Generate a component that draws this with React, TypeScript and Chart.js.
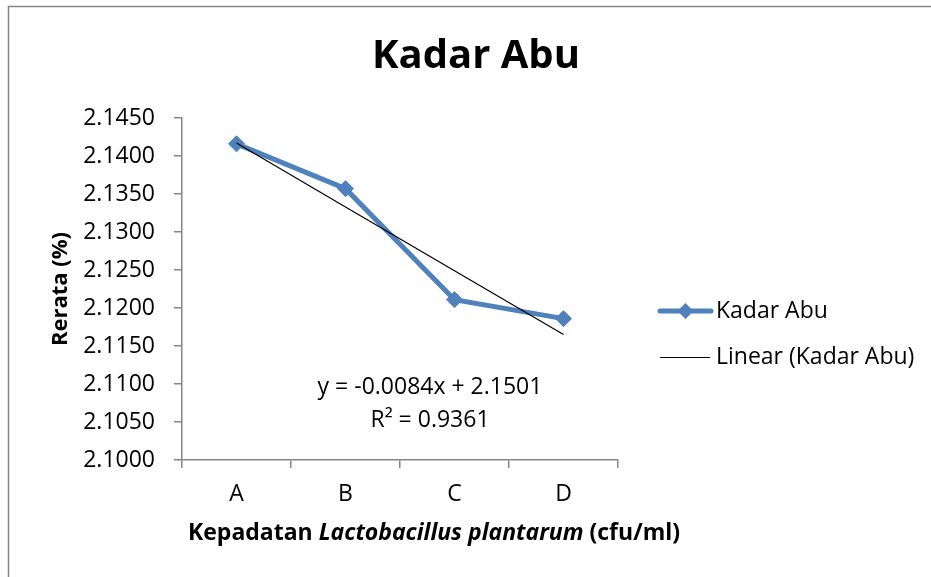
import React, { useEffect, useRef } from 'react';
import { Chart, registerables } from 'chart.js';

Chart.register(...registerables);

const categories = ['A', 'B', 'C', 'D'];
const kadarAbu = [2.1416, 2.1357, 2.1211, 2.1186];
const linearTrend = [2.1417, 2.1333, 2.1249, 2.1165];
const yMin = 2.1;
const yMax = 2.145;
const yStep = 0.005;
const chartTitle = 'Kadar Abu';
const yAxisTitle = 'Rerata (%)';
const xTitleParts = [
  { text: 'Kepadatan ', italic: false },
  { text: 'Lactobacillus plantarum', italic: true },
  { text: ' (cfu/ml)', italic: false },
];
const seriesName = 'Kadar Abu';
const trendName = 'Linear (Kadar Abu)';
const equationLines = ['y = -0.0084x + 2.1501', 'R² = 0.9361'];

const FONT = '"Open Sans", Lato, sans-serif';
const BLUE = '#4F81BD';
const GRAY = '#868686';

const decorPlugin = {
  id: 'decor',
  beforeDraw(chart: any) {
    const ctx = chart.ctx;
    ctx.save();
    ctx.strokeStyle = GRAY;
    ctx.lineWidth = 1.5;
    ctx.strokeRect(8.5, 6.5, 1200, 1200);
    ctx.restore();
  },
  afterDraw(chart: any) {
    const ctx = chart.ctx;
    const area = chart.chartArea;
    ctx.save();
    ctx.fillStyle = '#000';
    ctx.textBaseline = 'middle';

    // title
    ctx.font = `bold 40px ${FONT}`;
    ctx.textAlign = 'center';
    ctx.fillText(chartTitle, 476, 57);

    // y title
    ctx.save();
    ctx.translate(61, (area.top + area.bottom) / 2);
    ctx.rotate(-Math.PI / 2);
    ctx.font = `bold 22px ${FONT}`;
    ctx.fillText(yAxisTitle, 0, 0);
    ctx.restore();

    // x title
    ctx.textAlign = 'left';
    let total = 0;
    const fonts = xTitleParts.map((p) => `${p.italic ? 'italic ' : ''}bold 23px ${FONT}`);
    xTitleParts.forEach((p, i) => {
      ctx.font = fonts[i];
      total += ctx.measureText(p.text).width;
    });
    let x = 434 - total / 2;
    xTitleParts.forEach((p, i) => {
      ctx.font = fonts[i];
      ctx.fillText(p.text, x, 533);
      x += ctx.measureText(p.text).width;
    });

    // equation
    ctx.font = `23px ${FONT}`;
    ctx.textAlign = 'center';
    equationLines.forEach((t, i) => ctx.fillText(t, 430, 387 + i * 33));

    // legend
    ctx.textAlign = 'left';
    ctx.strokeStyle = BLUE;
    ctx.lineWidth = 5;
    ctx.lineCap = 'round';
    ctx.beginPath();
    ctx.moveTo(660, 311);
    ctx.lineTo(711, 311);
    ctx.stroke();
    ctx.fillStyle = BLUE;
    ctx.beginPath();
    ctx.moveTo(685.5 - 8, 311);
    ctx.lineTo(685.5, 311 - 8);
    ctx.lineTo(685.5 + 8, 311);
    ctx.lineTo(685.5, 311 + 8);
    ctx.closePath();
    ctx.fill();
    ctx.fillStyle = '#000';
    ctx.font = `23px ${FONT}`;
    ctx.fillText(seriesName, 716, 311);

    ctx.strokeStyle = '#000';
    ctx.lineWidth = 1.2;
    ctx.lineCap = 'butt';
    ctx.beginPath();
    ctx.moveTo(660, 357.5);
    ctx.lineTo(710, 357.5);
    ctx.stroke();
    ctx.fillText(trendName, 716, 357);
    ctx.restore();
  },
};

export default function App() {
  const ref = useRef<HTMLCanvasElement>(null);
  useEffect(() => {
    const canvas = ref.current!;
    const chart = new Chart(canvas, {
      type: 'line',
      data: {
        labels: categories,
        datasets: [
          {
            label: seriesName,
            data: kadarAbu,
            borderColor: BLUE,
            backgroundColor: BLUE,
            borderWidth: 5,
            pointStyle: 'rectRot',
            pointRadius: 8,
            pointBorderWidth: 1,
            pointBackgroundColor: BLUE,
            pointBorderColor: BLUE,
            tension: 0,
            order: 2,
          },
          {
            label: trendName,
            data: linearTrend,
            borderColor: '#000',
            borderWidth: 1.2,
            pointRadius: 0,
            tension: 0,
            order: 1,
          },
        ],
      },
      options: {
        animation: false,
        responsive: true,
        maintainAspectRatio: false,
        layout: { padding: { top: 118, right: 313, left: 0, bottom: 0 } },
        plugins: {
          legend: { display: false },
          title: { display: false },
          tooltip: { enabled: false },
        },
        scales: {
          x: {
            type: 'category',
            offset: true,
            grid: {
              offset: true,
              drawOnChartArea: false,
              drawTicks: true,
              tickLength: 8,
              color: GRAY,
              lineWidth: 1.5,
            },
            border: { display: true, color: GRAY, width: 1.5 },
            ticks: {
              color: '#000',
              font: { family: FONT, size: 23 },
              padding: 13,
            },
            afterFit(scale: any) {
              scale.height = 577 - 460;
            },
          },
          y: {
            min: yMin,
            max: yMax,
            grid: {
              drawOnChartArea: false,
              drawTicks: true,
              tickLength: 8,
              color: GRAY,
              lineWidth: 1.5,
            },
            border: { display: true, color: GRAY, width: 1.5 },
            ticks: {
              stepSize: yStep,
              color: '#000',
              font: { family: FONT, size: 23 },
              padding: 19,
              callback: (v: any) => Number(v).toFixed(4),
            },
            afterFit(scale: any) {
              scale.width = 182;
            },
          },
        },
      },
      plugins: [decorPlugin],
    });
    return () => chart.destroy();
  }, []);
  return (
    <div style={{ position: 'fixed', left: 0, top: 0, width: 931, height: 577, background: '#fff' }}>
      <canvas ref={ref} />
    </div>
  );
}
